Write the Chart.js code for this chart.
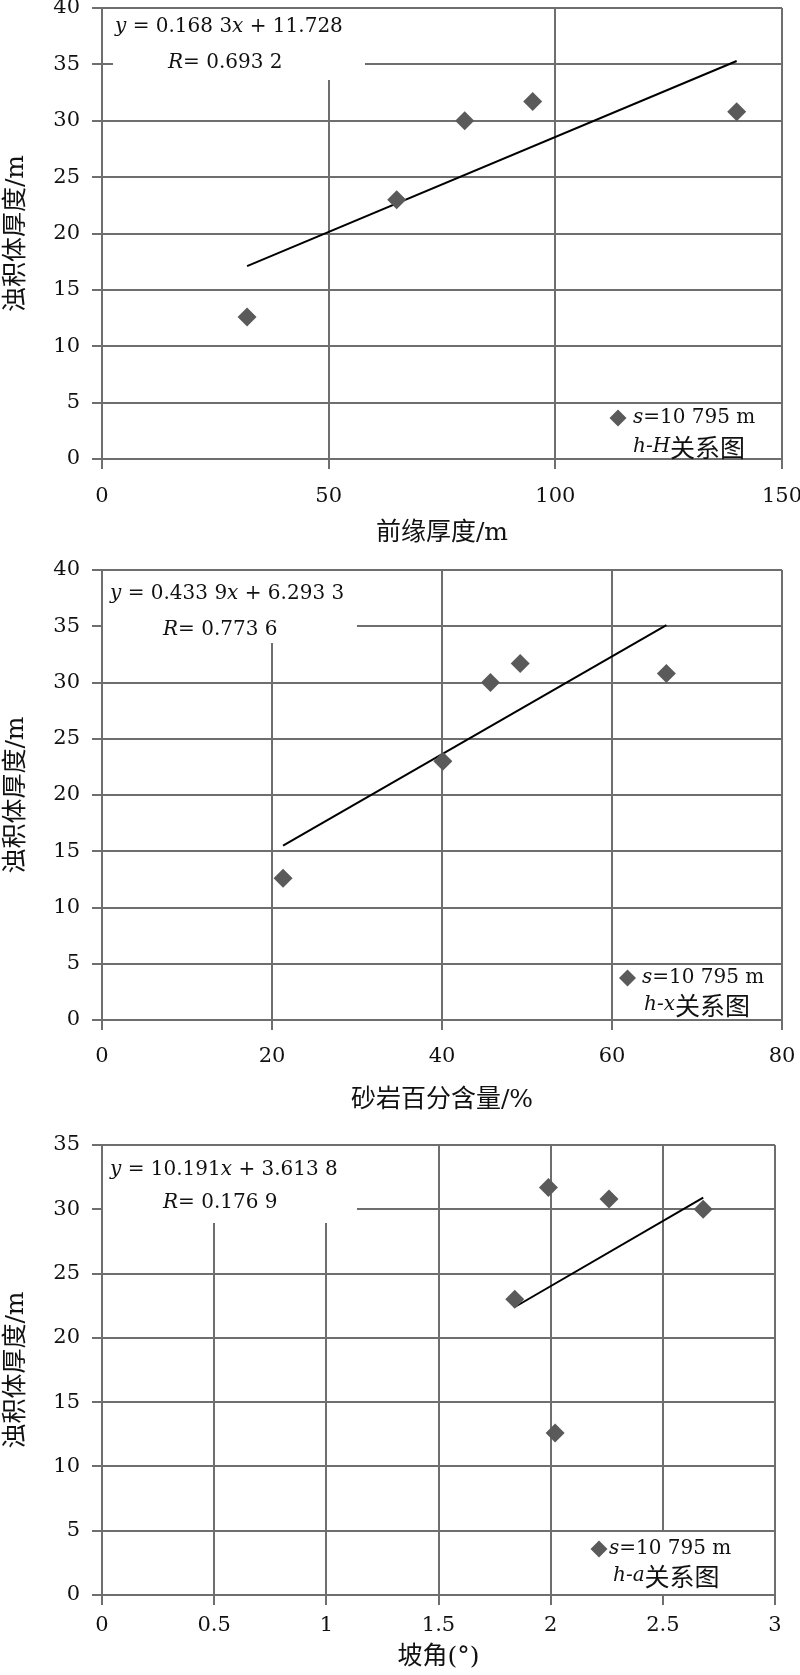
<!DOCTYPE html>
<html>
<head>
<meta charset="utf-8">
<script src="https://cdn.jsdelivr.net/npm/chart.js@4.4.1/dist/chart.umd.min.js"></script>
<style>
  html, body { margin: 0; padding: 0; background: #fff; overflow: hidden; width: 800px; height: 1675px; }
  canvas { position: absolute; left: 0; }
</style>
</head>
<body>
<canvas id="c1" width="840" height="570" style="top:-22px;width:840px;height:570px"></canvas>
<canvas id="c2" width="840" height="575" style="top:540px;width:840px;height:575px"></canvas>
<canvas id="c3" width="840" height="557" style="top:1115px;width:840px;height:557px"></canvas>
<script>
// ---- data ----
const thickness      = [12.6, 23.0, 30.0, 31.7, 30.8];   // 浊积体厚度 h / m
const frontThickness = [32, 65, 80, 95, 140];             // 前缘厚度 H / m
const sandPercent    = [21.3, 40.1, 45.7, 49.2, 66.4];    // 砂岩百分含量 x / %
const slopeAngle     = [2.02, 1.84, 2.68, 1.99, 2.26];    // 坡角 a / °

// trend line end points
const trendHX = [32, 140],   trendHY = [17.1, 35.3];
const trendXX = [21.3, 66.4], trendXY = [15.5, 35.1];
const trendAX = [1.84, 2.68], trendAY = [22.4, 30.9];

// tick labels
const yTicks40 = [0, 5, 10, 15, 20, 25, 30, 35, 40];
const yTicks35 = [0, 5, 10, 15, 20, 25, 30, 35];
const xTicksH  = [0, 50, 100, 150];
const xTicksX  = [0, 20, 40, 60, 80];
const xTicksA  = [0, 0.5, 1, 1.5, 2, 2.5, 3];

// text
const yTitle = '浊积体厚度/m';
const xTitles = ['前缘厚度/m', '砂岩百分含量/%', '坡角(°)'];
const eqLines = [
  [[['y','i'],[' = 0.168 3',''],['x','i'],[' + 11.728','']], [['R','i'],['= 0.693 2','']]],
  [[['y','i'],[' = 0.433 9',''],['x','i'],[' + 6.293 3','']], [['R','i'],['= 0.773 6','']]],
  [[['y','i'],[' = 10.191',''],['x','i'],[' + 3.613 8','']], [['R','i'],['= 0.176 9','']]]
];
const legendLines = [
  [[['s','i'],['=10 795 m','']], [['h-H','i'],['关系图','c']]],
  [[['s','i'],['=10 795 m','']], [['h-x','i'],['关系图','c']]],
  [[['s','i'],['=10 795 m','']], [['h-a','i'],['关系图','c']]]
];

// ---- styles ----
const GRID = '#6e6e6e';
const MARK = '#5a5a5a';
const SERIF = '"DejaVu Serif", "Liberation Serif", serif';
const MIXED = '"DejaVu Serif", "Noto Sans CJK SC", sans-serif';
const FONTS = {
  '': '20px ' + SERIF,
  'i': 'italic 20px ' + SERIF,
  'c': '25px "Noto Sans CJK SC", sans-serif'
};

function drawRich(ctx, x, y, segs) {
  ctx.textBaseline = 'middle';
  ctx.textAlign = 'left';
  ctx.fillStyle = '#111';
  for (const [t, f] of segs) {
    ctx.font = FONTS[f];
    ctx.fillText(t, x, y);
    x += ctx.measureText(t).width;
  }
}

const annotPlugin = {
  id: 'annot',
  beforeDatasetsDraw(chart, args, o) {
    const ctx = chart.ctx, a = chart.chartArea;
    ctx.save();
    ctx.fillStyle = '#fff';
    for (const b of o.boxes) ctx.fillRect(a.left + b[0], a.top + b[1], b[2], b[3]);
    o.eq.forEach((segs, k) => drawRich(ctx, a.left + o.eqPos[k][0], a.top + o.eqPos[k][1], segs));
    o.leg.forEach((segs, k) => drawRich(ctx, a.left + o.legPos[k][0], a.top + o.legPos[k][1], segs));
    // legend marker
    const mx = a.left + o.mark[0], my = a.top + o.mark[1], r = 8.5;
    ctx.beginPath();
    ctx.moveTo(mx - r, my); ctx.lineTo(mx, my - r); ctx.lineTo(mx + r, my); ctx.lineTo(mx, my + r);
    ctx.closePath();
    ctx.fillStyle = MARK;
    ctx.fill();
    ctx.restore();
  }
};

function makeChart(id, xs, trendX, trendY, xTicks, yTicks, xTitle, xH, xPad, padRight, annot) {
  const pts = xs.map((v, i) => ({x: v, y: thickness[i]}));
  const trend = trendX.map((v, i) => ({x: v, y: trendY[i]}));
  const tickFont = {family: SERIF, size: 21};
  return new Chart(document.getElementById(id), {
    type: 'scatter',
    data: {
      datasets: [
        {type: 'line', data: trend, borderColor: '#000', borderWidth: 2, pointRadius: 0, fill: false, order: 1},
        {data: pts, pointStyle: 'rectRot', pointRadius: 9.5, backgroundColor: MARK, borderColor: MARK, borderWidth: 0, order: 0}
      ]
    },
    options: {
      responsive: false,
      animation: false,
      devicePixelRatio: 1,
      layout: {padding: {top: 30, left: 0, right: padRight, bottom: 0}},
      plugins: {legend: {display: false}, tooltip: {enabled: false}, annot: annot},
      scales: {
        x: {
          type: 'linear', min: xTicks[0], max: xTicks[xTicks.length - 1],
          afterBuildTicks: s => { s.ticks = xTicks.map(v => ({value: v})); },
          afterFit: s => { s.height = xH; },
          grid: {color: GRID, lineWidth: 2, tickLength: 10, drawTicks: true},
          border: {color: GRID, width: 2},
          ticks: {font: tickFont, color: '#111', padding: xPad, maxRotation: 0, autoSkip: false,
                  callback: v => String(v)},
          title: {display: true, text: xTitle, font: {family: MIXED, size: 25}, color: '#111', padding: {top: 0, bottom: 0}}
        },
        y: {
          type: 'linear', min: yTicks[0], max: yTicks[yTicks.length - 1],
          afterBuildTicks: s => { s.ticks = yTicks.map(v => ({value: v})); },
          afterFit: s => { s.width = 102; },
          grid: {color: GRID, lineWidth: 2, tickLength: 10, drawTicks: true},
          border: {color: GRID, width: 2},
          ticks: {font: tickFont, color: '#111', padding: 12, autoSkip: false, callback: v => String(v)},
          title: {display: true, text: yTitle, font: {family: MIXED, size: 25}, color: '#111', padding: {top: 1, bottom: 0}}
        }
      }
    },
    plugins: [annotPlugin]
  });
}

makeChart('c1', frontThickness, trendHX, trendHY, xTicksH, yTicks40, xTitles[0], 89, 15, 58, {
  boxes: [[11, 1, 252, 71]],
  eq: eqLines[0], eqPos: [[13, 19], [66, 55]],
  leg: legendLines[0], legPos: [[531, 410], [531, 439]],
  mark: [516, 410]
});
makeChart('c2', sandPercent, trendXX, trendXY, xTicksX, yTicks40, xTitles[1], 95, 14, 58, {
  boxes: [[1, 1, 254, 72]],
  eq: eqLines[1], eqPos: [[8, 24], [61, 60]],
  leg: legendLines[1], legPos: [[540, 408], [542, 435]],
  mark: [525.5, 408]
});
makeChart('c3', slopeAngle, trendAX, trendAY, xTicksA, yTicks35, xTitles[2], 77, 8, 65, {
  boxes: [[1, 1, 254, 77], [483, 387, 185, 62]],
  eq: eqLines[2], eqPos: [[8, 25], [61, 58]],
  leg: legendLines[2], legPos: [[507, 404], [511, 431]],
  mark: [497, 404]
});
</script>
</body>
</html>
